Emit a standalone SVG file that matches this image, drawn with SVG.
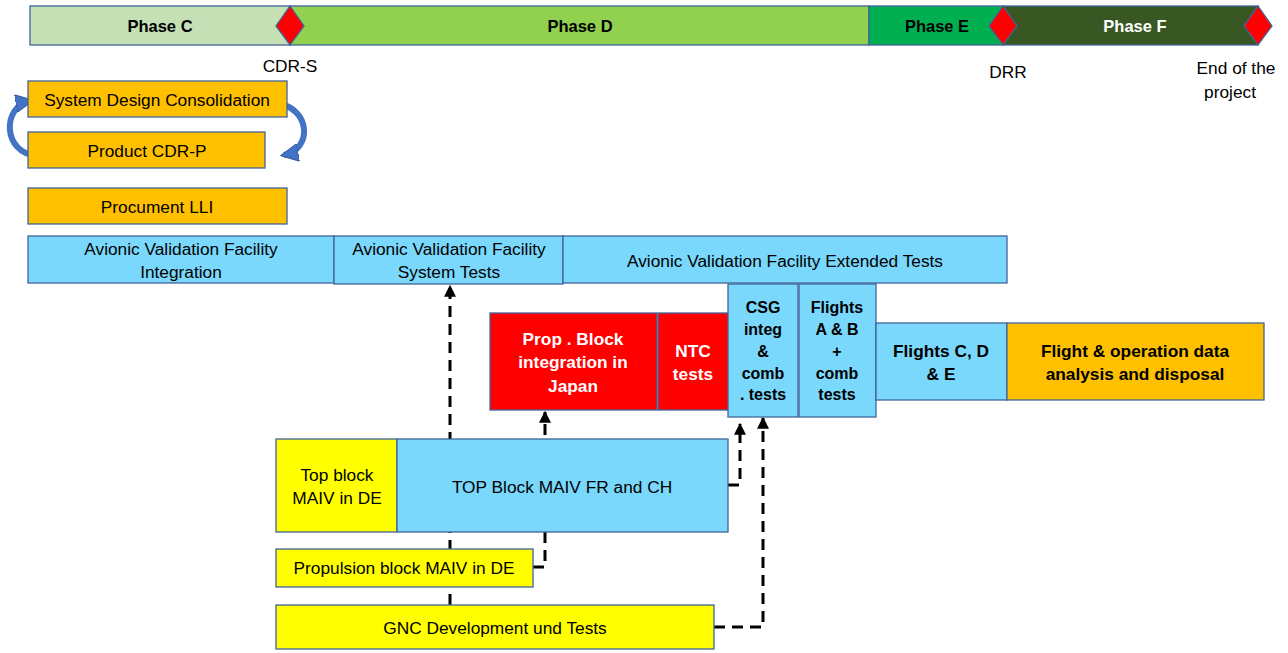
<svg xmlns="http://www.w3.org/2000/svg" width="1288" height="653" viewBox="0 0 1288 653">
<defs>
<style>
.b{stroke:#41649a;stroke-width:1.3}
.t{font-family:"Liberation Sans",Arial,sans-serif;font-size:17.3px;fill:#000;text-anchor:middle;dominant-baseline:central}
.bd{font-weight:bold}
.ph{font-size:16.5px}
.w{fill:#fff}
.sm{font-size:16px}
.dash{fill:none;stroke:#000;stroke-width:3;stroke-dasharray:11 7}
.cur{fill:none;stroke:#4472c4;stroke-width:6}
</style>
<marker id="ah" viewBox="0 0 10 10" refX="9" refY="5" markerWidth="4" markerHeight="4" orient="auto" markerUnits="strokeWidth">
<path d="M0,0 L10,5 L0,10 z" fill="#000"/>
</marker>
<marker id="bh" viewBox="0 0 10 10" refX="8" refY="5" markerWidth="3" markerHeight="3" orient="auto" markerUnits="strokeWidth">
<path d="M0,0 L10,5 L0,10 z" fill="#4472c4" stroke="#2f5597" stroke-width="0.5"/>
</marker>
</defs>
<rect width="1288" height="653" fill="#fff"/>

<g id="connectors">
<path class="dash" d="M450,605 L450,286" marker-end="url(#ah)"/>
<path class="dash" d="M533,567 L545,567 L545,412" marker-end="url(#ah)"/>
<path class="dash" d="M728,485 L740,485 L740,424" marker-end="url(#ah)"/>
<path class="dash" d="M714,627 L763,627 L763,418" marker-end="url(#ah)"/>
<path class="cur" d="M37,156 C2,153 2,106 30,101" marker-end="url(#bh)"/>
<path class="cur" d="M276,103 C312,108 312,150 284,155" marker-end="url(#bh)"/>
</g>

<g id="phases">
<rect class="b" x="30" y="6" width="260" height="39" fill="#c5e0b4"/>
<rect class="b" x="290" y="6" width="579" height="39" fill="#92d050"/>
<rect class="b" x="869" y="6" width="134" height="39" fill="#00b050"/>
<rect class="b" x="1003" y="6" width="255" height="39" fill="#385723"/>
<text class="t bd ph" x="160" y="26">Phase C</text>
<text class="t bd ph" x="580" y="26">Phase D</text>
<text class="t bd ph" x="937" y="26">Phase E</text>
<text class="t bd ph w" x="1135" y="26">Phase F</text>
</g>
<g id="milestone-cdrs">
<polygon class="b" points="290,6 304,26 290,45 276,26" fill="#ff0000"/>
<text class="t" x="290" y="66">CDR-S</text>
</g>
<g id="milestone-drr">
<polygon class="b" points="1003,6 1017,26 1003,45 989,26" fill="#ff0000"/>
<text class="t" x="1008" y="72">DRR</text>
</g>
<g id="milestone-end">
<polygon class="b" points="1258,6 1272,26 1258,45 1244,26" fill="#ff0000"/>
<text class="t" x="1236" y="68">End of the</text>
<text class="t" x="1230" y="92">project</text>
</g>

<g id="sdc"><rect class="b" x="28" y="81" width="259" height="36" fill="#ffc000"/><text class="t" x="157" y="100">System Design Consolidation</text></g>
<g id="cdrp"><rect class="b" x="28" y="132" width="237" height="36" fill="#ffc000"/><text class="t" x="147" y="151">Product CDR-P</text></g>
<g id="lli"><rect class="b" x="28" y="188" width="259" height="36" fill="#ffc000"/><text class="t" x="157" y="207">Procument LLI</text></g>

<g id="avf-int"><rect class="b" x="28" y="236" width="306" height="47" fill="#79d8fc"/><text class="t" x="181" y="249">Avionic Validation Facility</text><text class="t" x="181" y="272">Integration</text></g>
<g id="avf-sys"><rect class="b" x="334" y="236" width="229" height="48" fill="#79d8fc"/><text class="t" x="449" y="249">Avionic Validation Facility</text><text class="t" x="449" y="272">System Tests</text></g>
<g id="avf-ext"><rect class="b" x="563" y="236" width="444" height="47" fill="#79d8fc"/><text class="t" x="785" y="261">Avionic Validation Facility Extended Tests</text></g>

<g id="prop-jp"><rect class="b" x="490" y="313" width="167" height="97" fill="#ff0000"/><text class="t bd w" x="573" y="339">Prop . Block</text><text class="t bd w" x="573" y="362">integration in</text><text class="t bd w" x="573" y="386">Japan</text></g>
<g id="ntc"><rect class="b" x="658" y="313" width="71" height="97" fill="#ff0000"/><text class="t bd w" x="693" y="351">NTC</text><text class="t bd w" x="693" y="374">tests</text></g>
<g id="csg"><rect class="b" x="728" y="284" width="70" height="133" fill="#79d8fc"/>
<text class="t bd sm" x="763" y="307">CSG</text><text class="t bd sm" x="763" y="329">integ</text><text class="t bd sm" x="763" y="351">&amp;</text><text class="t bd sm" x="763" y="373">comb</text><text class="t bd sm" x="763" y="394">. tests</text></g>
<g id="flights-ab"><rect class="b" x="799" y="284" width="77" height="133" fill="#79d8fc"/>
<text class="t bd sm" x="837" y="307">Flights</text><text class="t bd sm" x="837" y="329">A &amp; B</text><text class="t bd sm" x="837" y="351">+</text><text class="t bd sm" x="837" y="373">comb</text><text class="t bd sm" x="837" y="394">tests</text></g>
<g id="flights-cde"><rect class="b" x="876" y="323" width="131" height="77" fill="#79d8fc"/><text class="t bd" x="941" y="351">Flights C, D</text><text class="t bd" x="941" y="374">&amp; E</text></g>
<g id="flight-data"><rect class="b" x="1007" y="323" width="257" height="77" fill="#ffc000"/><text class="t bd" x="1135" y="351">Flight &amp; operation data</text><text class="t bd" x="1135" y="374">analysis and disposal</text></g>

<g id="top-de"><rect class="b" x="276" y="439" width="121" height="93" fill="#ffff00"/><text class="t" x="337" y="475">Top block</text><text class="t" x="337" y="498">MAIV in DE</text></g>
<g id="top-frch"><rect class="b" x="397" y="439" width="331" height="93" fill="#79d8fc"/><text class="t" x="562" y="487">TOP Block MAIV FR and CH</text></g>
<g id="prop-de"><rect class="b" x="276" y="549" width="257" height="38" fill="#ffff00"/><text class="t" x="404" y="568">Propulsion block MAIV in DE</text></g>
<g id="gnc"><rect class="b" x="276" y="605" width="438" height="44" fill="#ffff00"/><text class="t" x="495" y="628">GNC Development und Tests</text></g>
</svg>
